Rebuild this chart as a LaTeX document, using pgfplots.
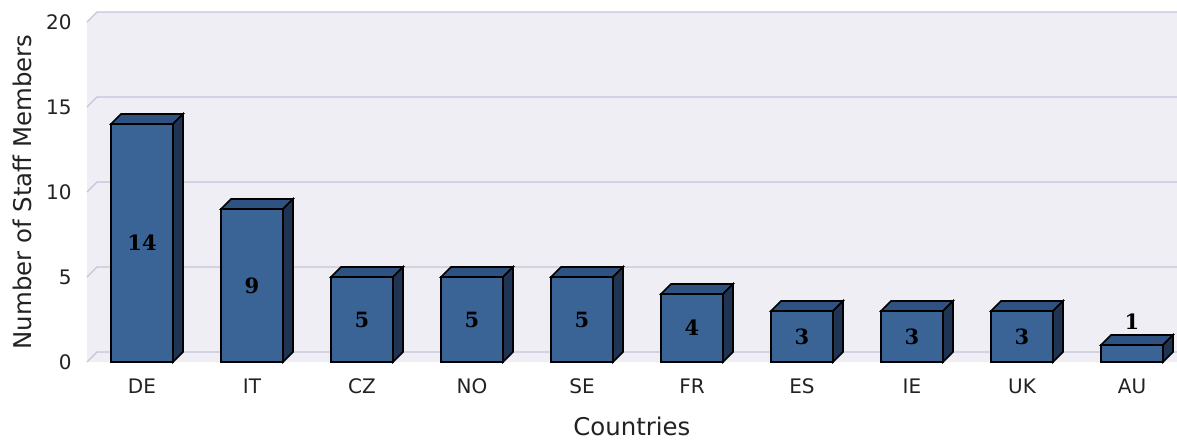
\documentclass[border=0pt]{standalone}
\usepackage{pgfplots}
\pgfplotsset{compat=1.18}
\usepackage{pgfplotstable}
\usepackage{fontspec}
\setmainfont{DejaVu Sans}
\newfontfamily\valfont{DejaVu Serif}

\definecolor{bgcol}{HTML}{EEEEF4}
\definecolor{gridcol}{HTML}{C4C4DA}
\definecolor{barfront}{HTML}{3A6396}
\definecolor{bartop}{HTML}{2E5282}
\definecolor{barside}{HTML}{1F3452}
\definecolor{txt}{HTML}{222222}

% top and side faces of the bars, drawn at the top centre of each bar
\pgfdeclareplotmark{prism}{%
  \pgfpathmoveto{\pgfpoint{-15.5pt}{0pt}}%
  \pgfpathlineto{\pgfpoint{-10.5pt}{5pt}}%
  \pgfpathlineto{\pgfpoint{20.5pt}{5pt}}%
  \pgfpathlineto{\pgfpoint{15.5pt}{0pt}}%
  \pgfpathclose
  \pgfsetfillcolor{bartop}%
  \pgfusepath{fill,stroke}%
  \pgfpathmoveto{\pgfpoint{15.5pt}{0pt}}%
  \pgfpathlineto{\pgfpoint{20.5pt}{5pt}}%
  \pgfpathlineto{\pgfpoint{20.5pt}{5pt-\hval*8.5pt}}%
  \pgfpathlineto{\pgfpoint{15.5pt}{-\hval*8.5pt}}%
  \pgfpathclose
  \pgfsetfillcolor{barside}%
  \pgfusepath{fill,stroke}%
}

\pgfplotstableread{
x lab n
0 DE 14
1 IT 9
2 CZ 5
3 NO 5
4 SE 5
5 FR 4
6 ES 3
7 IE 3
8 UK 3
9 AU 1
}\staff

\begin{document}
\begin{tikzpicture}
\begin{axis}[
  scale only axis, width=540pt, height=170pt,
  xmin=-0.5, xmax=9.318, ymin=0, ymax=20,
  clip=false,
  axis line style={draw=none},
  major tick length=0pt,
  xtick=data, xticklabels from table={\staff}{lab},
  ytick={0,5,10,15,20},
  /pgf/number format/assume math mode=true,
  tick label style={font=\fontsize{10}{12}\selectfont, text=txt},
  xticklabel style={anchor=center, inner sep=0pt, yshift=-12pt},
  yticklabel style={anchor=east, inner sep=0pt, xshift=-7.5pt},
  label style={font=\fontsize{12.2}{14}\selectfont, text=txt},
  xlabel={Countries},
  ylabel={Number of Staff Members},
  xlabel style={at={(axis description cs:0.5046,-0.188)}, anchor=center},
  ylabel style={at={(axis description cs:-0.0602,0.5)}, anchor=center},
]
\coordinate (O) at (axis cs:-0.5,0);
\fill[bgcol] (axis cs:-0.5,0) -- (axis cs:-0.5,20)
  -- ([shift={(5pt,5pt)}]axis cs:-0.5,20)
  -- ([shift={(5pt,5pt)}]axis cs:9.318,20)
  -- ([shift={(5pt,0pt)}]axis cs:9.318,0) -- cycle;
\pgfplotsinvokeforeach{0,5,10,15,20}{
  \draw[gridcol, line width=0.6pt] (axis cs:-0.5,#1) -- ++(5pt,5pt)
    -- ([shift={(5pt,5pt)}]axis cs:9.318,#1);
}
\addplot[ybar, bar width=31pt, fill=barfront, draw=black, line width=0.8pt,
  visualization depends on={\thisrow{n} \as \hval},
  nodes near coords,
  every node near coord/.append style={anchor=center,
    font=\valfont\bfseries\fontsize{10.5}{12}\selectfont, text=black,
    yshift={(\hval>1.5)*(-4.25*\hval) + (\hval<1.5)*11.5}}]
  table[x=x, y=n] {\staff};
\addplot[only marks, mark=prism, mark options={draw=black, line width=0.8pt, solid},
  visualization depends on={\thisrow{n} \as \hval}]
  table[x=x, y=n] {\staff};
\end{axis}
\pgfresetboundingbox
\path ([shift={(-43.5pt,-39.5pt)}]O) rectangle ([shift={(545pt,181pt)}]O);
\end{tikzpicture}
\end{document}
